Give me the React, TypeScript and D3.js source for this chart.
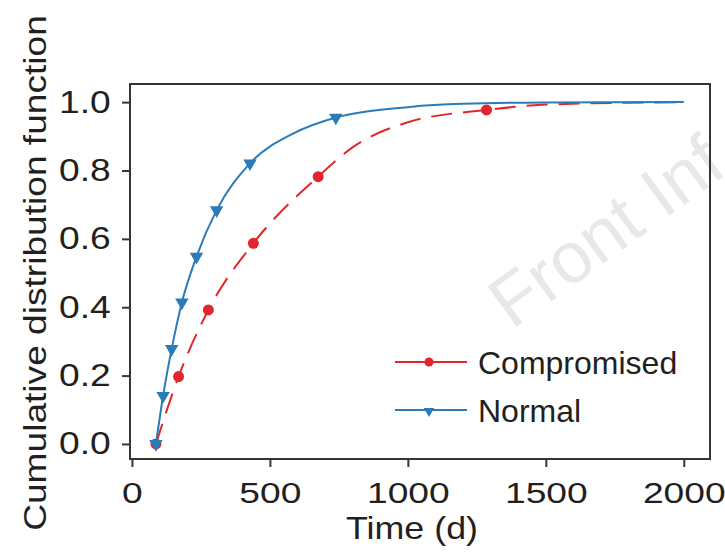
import React, { useRef, useEffect } from "react";
import * as d3 from "d3";

// CDF marker points (time in days)
const compromisedDays = [87, 169, 277, 440, 675, 1285];
const compromisedCdf = [0, 0.197, 0.392, 0.587, 0.782, 0.977];
const normalDays = [87, 113, 144, 181, 234, 307, 428, 739];
const normalCdf = [0, 0.141, 0.278, 0.414, 0.548, 0.684, 0.821, 0.955];

// extra points along the fitted curves, between / after the markers
const compromisedCurveDays = [802, 1000, 1514, 2000];
const compromisedCurveCdf = [0.869, 0.941, 0.993, 1.0];
const normalCurveDays = [584, 1007, 1200, 1500, 2000];
const normalCurveCdf = [0.908, 0.986, 0.995, 0.999, 1.0];

const xTicks = [0, 500, 1000, 1500, 2000];
const yTicks = [0, 0.2, 0.4, 0.6, 0.8, 1.0];
const seriesNames = ["Compromised", "Normal"];

const RED = "#e2262c";
const BLUE = "#2b7bb9";
const INK = "#231f20";

const zip = (xs: number[], ys: number[]) => xs.map((x, i) => ({ x, y: ys[i] }));

const App = () => {
  const svgRef = useRef<SVGSVGElement>(null);

  useEffect(() => {
    const width = 725;
    const height = 558;
    const margin = { top: 84, right: 15, bottom: 99, left: 130 };

    const svg = d3.select(svgRef.current);
    svg.selectAll("*").remove();

    const x = d3
      .scaleLinear()
      .domain([-7, 2095])
      .range([margin.left, width - margin.right]);
    const y = d3
      .scaleLinear()
      .domain([-0.044, 1.053])
      .range([height - margin.bottom, margin.top]);

    // watermark
    svg
      .append("text")
      .attr("transform", "translate(512,330) rotate(-36)")
      .attr("font-family", "Liberation Sans, Arial, sans-serif")
      .attr("font-size", 72)
      .attr("fill", "#e8e8e8")
      .text("Front Inf");

    const line = d3
      .line<{ x: number; y: number }>()
      .x((d) => x(d.x))
      .y((d) => y(d.y))
      .curve(d3.curveMonotoneX);

    const compromisedCurve = zip(compromisedDays, compromisedCdf)
      .concat(zip(compromisedCurveDays, compromisedCurveCdf))
      .sort((a, b) => a.x - b.x);
    const normalCurve = zip(normalDays, normalCdf)
      .concat(zip(normalCurveDays, normalCurveCdf))
      .sort((a, b) => a.x - b.x);

    // Compromised (dashed red)
    svg
      .append("path")
      .datum(compromisedCurve)
      .attr("d", line)
      .attr("fill", "none")
      .attr("stroke", RED)
      .attr("stroke-width", 2)
      .attr("stroke-dasharray", "21,11");

    svg
      .selectAll(".pt-c")
      .data(zip(compromisedDays, compromisedCdf))
      .join("circle")
      .attr("class", "pt-c")
      .attr("cx", (d) => x(d.x))
      .attr("cy", (d) => y(d.y))
      .attr("r", 5.5)
      .attr("fill", RED);

    // Normal (solid blue)
    svg
      .append("path")
      .datum(normalCurve)
      .attr("d", line)
      .attr("fill", "none")
      .attr("stroke", BLUE)
      .attr("stroke-width", 2);

    const tri = d3.symbol().type(d3.symbolTriangle).size(78);
    svg
      .selectAll(".pt-n")
      .data(zip(normalDays, normalCdf))
      .join("path")
      .attr("class", "pt-n")
      .attr("d", tri)
      .attr("transform", (d) => `translate(${x(d.x)},${y(d.y)}) rotate(180)`)
      .attr("fill", BLUE);

    // frame
    svg
      .append("rect")
      .attr("x", margin.left)
      .attr("y", margin.top)
      .attr("width", width - margin.left - margin.right)
      .attr("height", height - margin.top - margin.bottom)
      .attr("fill", "none")
      .attr("stroke", "#3a3431")
      .attr("stroke-width", 2);

    const axisFont = "Liberation Sans, Arial, sans-serif";

    const xAxis = svg
      .append("g")
      .attr("transform", `translate(0,${height - margin.bottom})`)
      .call(
        d3
          .axisBottom(x)
          .tickValues(xTicks)
          .tickFormat(d3.format("d"))
          .tickSize(8)
          .tickPadding(15)
      );
    xAxis.select(".domain").remove();
    xAxis.selectAll("line").attr("stroke", "#3a3431").attr("stroke-width", 2);
    xAxis
      .selectAll("text")
      .attr("font-family", axisFont)
      .attr("font-size", 30)
      .attr("fill", INK)
      .attr("transform", "scale(1.24,1)");

    const yAxis = svg
      .append("g")
      .attr("transform", `translate(${margin.left},0)`)
      .call(
        d3
          .axisLeft(y)
          .tickValues(yTicks)
          .tickFormat(d3.format(".1f"))
          .tickSize(8)
          .tickPadding(8)
      );
    yAxis.select(".domain").remove();
    yAxis.selectAll("line").attr("stroke", "#3a3431").attr("stroke-width", 2);
    yAxis
      .selectAll("text")
      .attr("font-family", axisFont)
      .attr("font-size", 31)
      .attr("fill", INK)
      .attr("transform", "scale(1.2,1)");

    svg
      .append("text")
      .attr("transform", "translate(412,539) scale(1.12,1)")
      .attr("text-anchor", "middle")
      .attr("font-family", axisFont)
      .attr("font-size", 32)
      .attr("fill", INK)
      .text("Time (d)");

    svg
      .append("text")
      .attr("transform", "translate(46,273) rotate(-90) scale(1.16,1)")
      .attr("text-anchor", "middle")
      .attr("font-family", axisFont)
      .attr("font-size", 32)
      .attr("fill", INK)
      .text("Cumulative distribution function");

    // legend
    const legend = svg.append("g").attr("transform", "translate(395,362)");
    seriesNames.forEach((name, i) => {
      const color = i === 0 ? RED : BLUE;
      const row = legend.append("g").attr("transform", `translate(0,${i * 48})`);
      row
        .append("line")
        .attr("x1", 0)
        .attr("x2", 72)
        .attr("stroke", color)
        .attr("stroke-width", 2);
      if (i === 0) {
        row.append("circle").attr("cx", 34).attr("r", 4.5).attr("fill", color);
      } else {
        row
          .append("path")
          .attr("d", d3.symbol().type(d3.symbolTriangle).size(48)())
          .attr("transform", "translate(34,1) rotate(180)")
          .attr("fill", color);
      }
      row
        .append("text")
        .attr("x", 83)
        .attr("y", 12)
        .attr("font-family", axisFont)
        .attr("font-size", 32)
        .attr("fill", INK)
        .text(name);
    });
  }, []);

  return (
    <svg
      ref={svgRef}
      width={725}
      height={558}
      style={{ position: "absolute", left: 0, top: 0, background: "#fff" }}
    />
  );
};

export default App;
